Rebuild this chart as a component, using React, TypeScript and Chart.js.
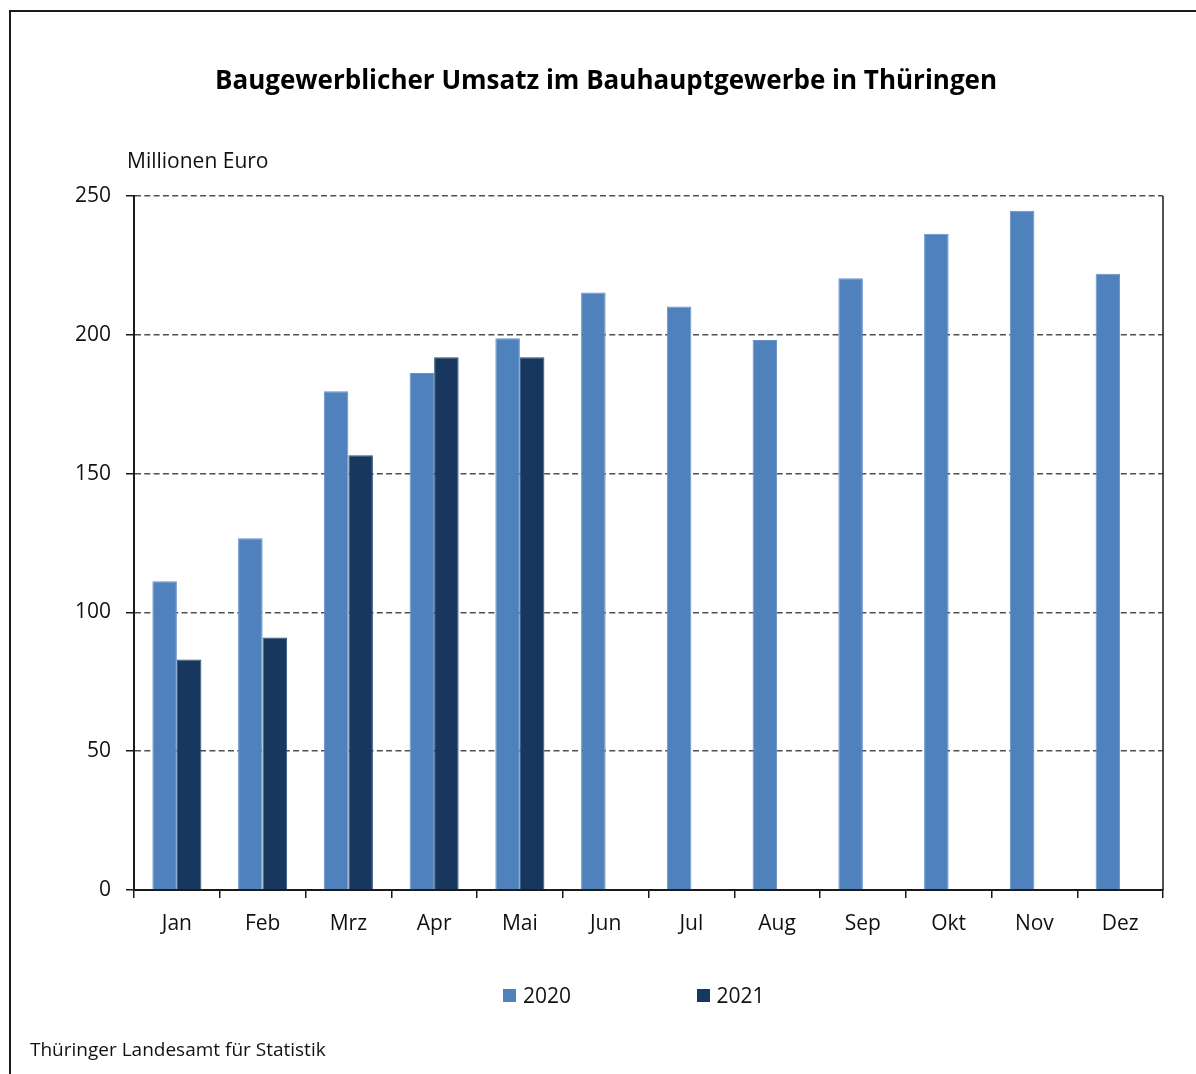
import React, { useEffect, useRef } from "react";
import { Chart, registerables } from "chart.js";

Chart.register(...registerables);

const months = ["Jan", "Feb", "Mrz", "Apr", "Mai", "Jun", "Jul", "Aug", "Sep", "Okt", "Nov", "Dez"];
const values2020 = [111.2, 126.7, 179.7, 186.2, 198.8, 215.2, 210.2, 198.1, 220.4, 236.4, 244.7, 222.0];
const values2021 = [83.0, 91.0, 156.6, 191.9, 191.9, null, null, null, null, null, null, null];
const seriesLabels = ["2020", "2021"];
const yTicks = [0, 50, 100, 150, 200, 250];

const titleText = "Baugewerblicher Umsatz im Bauhauptgewerbe in Thüringen";
const unitText = "Millionen Euro";
const sourceText = "Thüringer Landesamt für Statistik";

const COLOR_2020 = "#4F81BD";
const COLOR_2021 = "#17375E";
const FONT = "'Open Sans', 'Noto Sans', sans-serif";

const rightBorderPlugin = {
  id: "rightBorder",
  afterDraw(chart: any) {
    const { ctx, chartArea } = chart;
    ctx.save();
    ctx.strokeStyle = "#1a1a1a";
    ctx.lineWidth = 1.5;
    ctx.beginPath();
    ctx.moveTo(chartArea.right, chartArea.top);
    ctx.lineTo(chartArea.right, chartArea.bottom);
    ctx.stroke();
    ctx.restore();
  },
};

function ChartCanvas() {
  const ref = useRef<HTMLCanvasElement | null>(null);
  useEffect(() => {
    if (!ref.current) return;
    const chart = new Chart(ref.current, {
      type: "bar",
      data: {
        labels: months,
        datasets: [
          {
            label: seriesLabels[0],
            data: values2020,
            backgroundColor: COLOR_2020,
            borderColor: "#6690C6",
            borderWidth: 1,
            barPercentage: 1,
            categoryPercentage: 0.572,
          },
          {
            label: seriesLabels[1],
            data: values2021 as any,
            backgroundColor: COLOR_2021,
            borderColor: "#2F4F78",
            borderWidth: 1,
            barPercentage: 1,
            categoryPercentage: 0.572,
          },
        ],
      },
      options: {
        animation: false,
        responsive: false,
        maintainAspectRatio: false,
        layout: { padding: { left: 49, right: 33, top: 20, bottom: 0 } },
        plugins: {
          legend: { display: false },
          tooltip: { enabled: false },
          title: {
            display: true,
            text: titleText,
            color: "#000",
            font: { family: FONT, size: 26, weight: "bold" },
            padding: { top: 46.4, bottom: 98.4 },
          },
        },
        scales: {
          x: {
            grid: {
              offset: true,
              drawOnChartArea: false,
              drawTicks: true,
              tickLength: 8,
              color: "#1a1a1a",
              lineWidth: 1.5,
            },
            border: { display: true, color: "#1a1a1a", width: 2 },
            ticks: {
              color: "#111",
              font: { family: FONT, size: 21 },
              padding: 13,
              maxRotation: 0,
              autoSkip: false,
            },
            afterFit(scale: any) {
              scale.height = 1074 - 890;
            },
          },
          y: {
            min: 0,
            max: 250,
            afterBuildTicks(scale: any) {
              scale.ticks = yTicks.map((v) => ({ value: v }));
            },
            grid: {
              color: "#505050",
              lineWidth: 1.5,
              drawTicks: true,
              tickLength: 8,
              tickColor: "#1a1a1a",
              tickWidth: 1.5,
              tickBorderDash: [],
            },
            border: { display: true, color: "#1a1a1a", width: 2, dash: [6, 3.3] },
            ticks: {
              color: "#111",
              font: { family: FONT, size: 21 },
              padding: 15,
            },
            afterFit(scale: any) {
              scale.width = 134 - 49;
            },
          },
        },
      },
      plugins: [rightBorderPlugin],
    });
    return () => chart.destroy();
  }, []);
  return (
    <canvas
      ref={ref}
      width={1196}
      height={1074}
      style={{ position: "absolute", left: 0, top: 0, width: 1196, height: 1074 }}
    />
  );
}

const textStyle = (size: number): React.CSSProperties => ({
  position: "absolute",
  fontFamily: FONT,
  fontSize: size,
  lineHeight: 1,
  color: "#111",
  whiteSpace: "nowrap",
});

export default function App() {
  return (
    <div
      style={{
        position: "absolute",
        left: 0,
        top: 0,
        width: 1196,
        height: 1074,
        overflow: "hidden",
        background: "#fff",
      }}
    >
      <div
        style={{
          position: "absolute",
          left: 9,
          top: 10,
          width: 1300,
          height: 1200,
          borderLeft: "2px solid #1a1a1a",
          borderTop: "2px solid #1a1a1a",
        }}
      />
      <ChartCanvas />
      <span style={{ ...textStyle(21), left: 127, top: 149.7 }}>{unitText}</span>
      <div style={{ position: "absolute", left: 503, top: 989, width: 13, height: 13, background: COLOR_2020 }} />
      <span style={{ ...textStyle(21), left: 523, top: 985 }}>{seriesLabels[0]}</span>
      <div style={{ position: "absolute", left: 697, top: 989, width: 13, height: 13, background: COLOR_2021 }} />
      <span style={{ ...textStyle(21), left: 716.5, top: 985 }}>{seriesLabels[1]}</span>
      <span style={{ ...textStyle(19), left: 30, top: 1040 }}>{sourceText}</span>
    </div>
  );
}
